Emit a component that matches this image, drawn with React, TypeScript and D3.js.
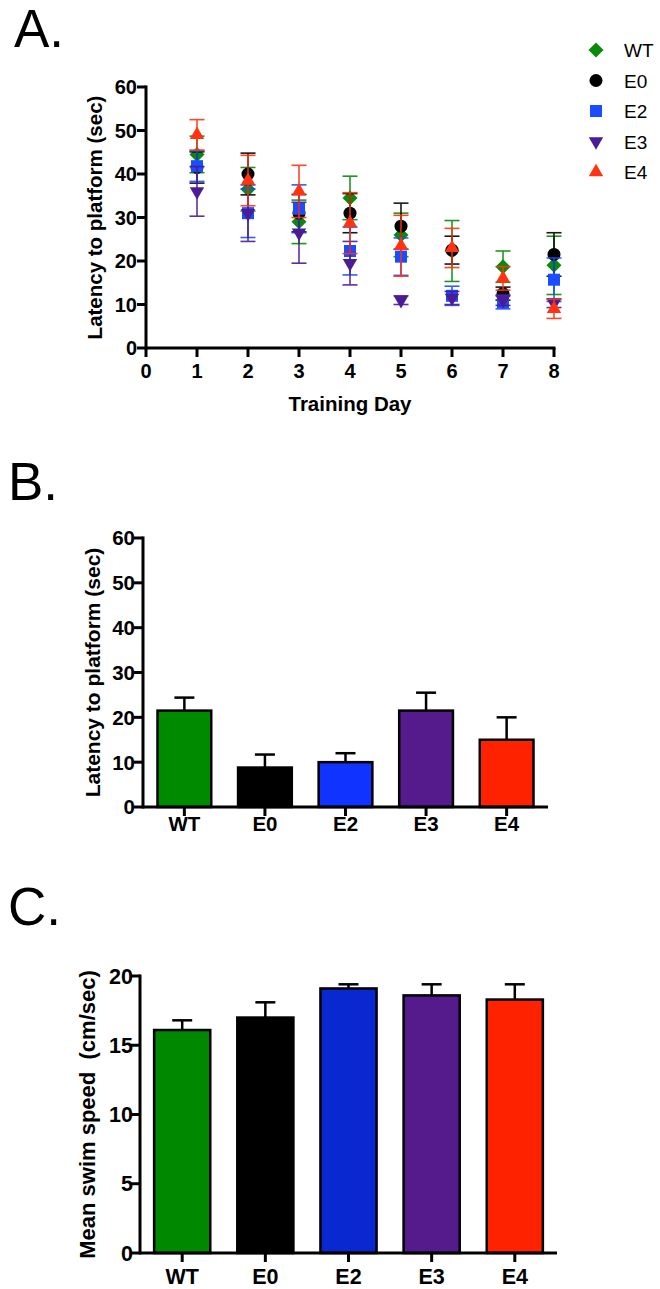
import React from "react";
import * as d3 from "d3";

// Panel A: latency per training day (mean ± SEM)
const days = [1, 2, 3, 4, 5, 6, 7, 8];
const groups = ["WT", "E0", "E2", "E3", "E4"];
const wtMean = [44.5, 36.5, 29, 34.5, 26, 22.3, 18.7, 19];
const wtErr = [4.2, 5, 5, 5, 5, 7, 3.6, 6.7];
const e0Mean = [41.5, 40, 31, 31, 28, 22.5, 12.5, 21.5];
const e0Err = [3.6, 4.8, 4.3, 4.5, 5.3, 3.2, 1.5, 5];
const e2Mean = [41.8, 31, 32, 22.3, 21, 12, 10.5, 15.7];
const e2Err = [3.5, 5.6, 5.5, 5.5, 4.3, 2.2, 1.5, 5];
const e3Mean = [36, 31, 26.5, 19.5, 11, 11.5, 11, 10.3];
const e3Err = [5.7, 6.5, 7, 5, 1, 1.5, 1.2, 1];
const e4Mean = [49, 38.5, 36, 28.7, 23.5, 23, 16, 9];
const e4Err = [3.5, 5.8, 6, 7, 7, 4.5, 2.7, 2.2];

// Panel B: probe latency; Panel C: swim speed
const latencyMean = [21.5, 8.8, 10, 21.5, 15];
const latencyErr = [2.9, 2.9, 2, 4, 5];
const speedMean = [16.1, 17, 19.1, 18.6, 18.3];
const speedErr = [0.7, 1.1, 0.3, 0.8, 1.1];

const dayTicks = [0, 1, 2, 3, 4, 5, 6, 7, 8];
const latencyTicks = [0, 10, 20, 30, 40, 50, 60];
const speedTicks = [0, 5, 10, 15, 20];

const scatterColors = ["#0a8a0a", "#000000", "#1a4dff", "#4a1c96", "#ff3311"];
const barColorsB = ["#008a00", "#000000", "#1133ff", "#551a8b", "#ff2200"];
const barColorsC = ["#008800", "#000000", "#0a28d0", "#551a8b", "#ff2200"];
const shapes = ["diamond", "circle", "square", "down", "up"];

const series = [
  { mean: wtMean, err: wtErr },
  { mean: e0Mean, err: e0Err },
  { mean: e2Mean, err: e2Err },
  { mean: e3Mean, err: e3Err },
  { mean: e4Mean, err: e4Err },
];

const FONT = "'Liberation Sans', Arial, sans-serif";

function markerPath(shape: string) {
  if (shape === "diamond") return "M0,-7.5L7.5,0L0,7.5L-7.5,0Z";
  if (shape === "circle") return d3.symbol(d3.symbolCircle, 133)()!;
  if (shape === "square") return d3.symbol(d3.symbolSquare, 144)()!;
  return d3.symbol(d3.symbolTriangle, 90)()!;
}

function Marker({ shape, x, y, color }: { shape: string; x: number; y: number; color: string }) {
  const rot = shape === "down" ? " rotate(180)" : "";
  return <path d={markerPath(shape)} transform={`translate(${x},${y})${rot}`} fill={color} />;
}

function YAxis({ y, ticks, x0, labelRight, size }: any) {
  return (
    <g>
      {ticks.map((t: number) => (
        <g key={t}>
          <line x1={x0 - 9} x2={x0} y1={y(t)} y2={y(t)} stroke="#000" strokeWidth={3} />
          <text
            x={labelRight}
            y={y(t)}
            dy="0.36em"
            textAnchor="end"
            fontSize={size}
            fontWeight="bold"
            fontFamily={FONT}
          >
            {t}
          </text>
        </g>
      ))}
      <line x1={x0} x2={x0} y1={y(ticks[ticks.length - 1]) - 1.5} y2={y(0) + 1.5} stroke="#000" strokeWidth={3} />
    </g>
  );
}

function PanelA() {
  const x = d3.scaleLinear().domain([0, 8]).range([146, 554]);
  const y = d3.scaleLinear().domain([0, 60]).range([348, 87]);
  const capW = 7.5;
  return (
    <g>
      <text x={14} y={47} fontSize={53} fontFamily={FONT}>A.</text>
      <YAxis y={y} ticks={latencyTicks} x0={146} labelRight={137} size={20} />
      <line x1={146} x2={555.5} y1={348} y2={348} stroke="#000" strokeWidth={3} />
      {dayTicks.map((d) => (
        <g key={d}>
          <line x1={x(d)} x2={x(d)} y1={348} y2={357} stroke="#000" strokeWidth={3} />
          <text x={x(d)} y={378} textAnchor="middle" fontSize={20} fontWeight="bold" fontFamily={FONT}>
            {d}
          </text>
        </g>
      ))}
      <text x={350} y={411} textAnchor="middle" fontSize={20.5} fontWeight="bold" fontFamily={FONT}>
        Training Day
      </text>
      <text
        transform={`translate(102,${(y(0) + y(60)) / 2}) rotate(-90)`}
        textAnchor="middle"
        fontSize={20.5}
        fontWeight="bold"
        fontFamily={FONT}
      >
        Latency to platform (sec)
      </text>
      {series.map((s, gi) => (
        <g key={gi}>
          {days.map((d, i) => {
            const cx = x(d);
            const top = y(s.mean[i] + s.err[i]);
            const bot = y(s.mean[i] - s.err[i]);
            return (
              <g key={d} stroke={scatterColors[gi]} strokeWidth={1.6} opacity={0.9}>
                <line x1={cx} x2={cx} y1={top} y2={bot} />
                <line x1={cx - capW} x2={cx + capW} y1={top} y2={top} />
                <line x1={cx - capW} x2={cx + capW} y1={bot} y2={bot} />
              </g>
            );
          })}
          {days.map((d, i) => (
            <Marker key={d} shape={shapes[gi]} x={x(d)} y={y(s.mean[i])} color={scatterColors[gi]} />
          ))}
        </g>
      ))}
      {groups.map((g, i) => (
        <g key={g}>
          <Marker shape={shapes[i]} x={596} y={50 + i * 30.5} color={scatterColors[i]} />
          <text x={624} y={50 + i * 30.5 + 7} fontSize={19} fontFamily={FONT}>
            {g}
          </text>
        </g>
      ))}
    </g>
  );
}

function BarPanel({ letter, letterY, means, errs, colors, domainMax, ticks, xRange, yRange, title, titleX, labelRight, labelY, pi, po, capHalf, fs }: any) {
  const x = d3.scaleBand<string>().domain(groups).range(xRange).paddingInner(pi).paddingOuter(po);
  const y = d3.scaleLinear().domain([0, domainMax]).range(yRange);
  return (
    <g>
      <text x={8} y={letterY} fontSize={53} fontFamily={FONT}>{letter}</text>
      {groups.map((g, i) => {
        const bx = x(g)!;
        const cx = bx + x.bandwidth() / 2;
        return (
          <g key={g}>
            <line x1={cx} x2={cx} y1={y(means[i])} y2={y(means[i] + errs[i])} stroke="#000" strokeWidth={2.5} />
            <line x1={cx - capHalf} x2={cx + capHalf} y1={y(means[i] + errs[i])} y2={y(means[i] + errs[i])} stroke="#000" strokeWidth={2.5} />
            <rect
              x={bx}
              y={y(means[i])}
              width={x.bandwidth()}
              height={y(0) - y(means[i])}
              fill={colors[i]}
              stroke="#000"
              strokeWidth={2.5}
            />
            <line x1={cx} x2={cx} y1={y(0)} y2={y(0) + 9} stroke="#000" strokeWidth={3} />
            <text x={cx} y={labelY} textAnchor="middle" fontSize={fs} fontWeight="bold" fontFamily={FONT}>
              {g}
            </text>
          </g>
        );
      })}
      <line x1={xRange[0]} x2={xRange[1]} y1={y(0)} y2={y(0)} stroke="#000" strokeWidth={3} />
      <YAxis y={y} ticks={ticks} x0={xRange[0]} labelRight={labelRight} size={fs} />
      <text
        transform={`translate(${titleX},${(yRange[0] + yRange[1]) / 2}) rotate(-90)`}
        textAnchor="middle"
        fontSize={fs + 0.5}
        fontWeight="bold"
        fontFamily={FONT}
        style={{ whiteSpace: "pre" }}
      >
        {title}
      </text>
    </g>
  );
}

export default function App() {
  return (
    <div style={{ position: "absolute", left: 0, top: 0 }}>
      <svg width={660} height={1289} style={{ display: "block", background: "#fff" }}>
        <PanelA />
        <BarPanel
          letter="B."
          letterY={500}
          means={latencyMean}
          errs={latencyErr}
          colors={barColorsB}
          domainMax={60}
          ticks={latencyTicks}
          xRange={[143, 548]}
          yRange={[807, 538]}
          title="Latency to platform (sec)"
          titleX={100}
          labelRight={135}
          labelY={831}
          pi={0.333}
          po={0.18}
          capHalf={10}
          fs={20.5}
        />
        <BarPanel
          letter="C."
          letterY={925}
          means={speedMean}
          errs={speedErr}
          colors={barColorsC}
          domainMax={20}
          ticks={speedTicks}
          xRange={[140, 557]}
          yRange={[1253, 976]}
          title="Mean swim speed  (cm/sec)"
          titleX={95}
          labelRight={133}
          labelY={1284}
          pi={0.325}
          po={0.17}
          capHalf={10}
          fs={21.5}
        />
      </svg>
    </div>
  );
}
